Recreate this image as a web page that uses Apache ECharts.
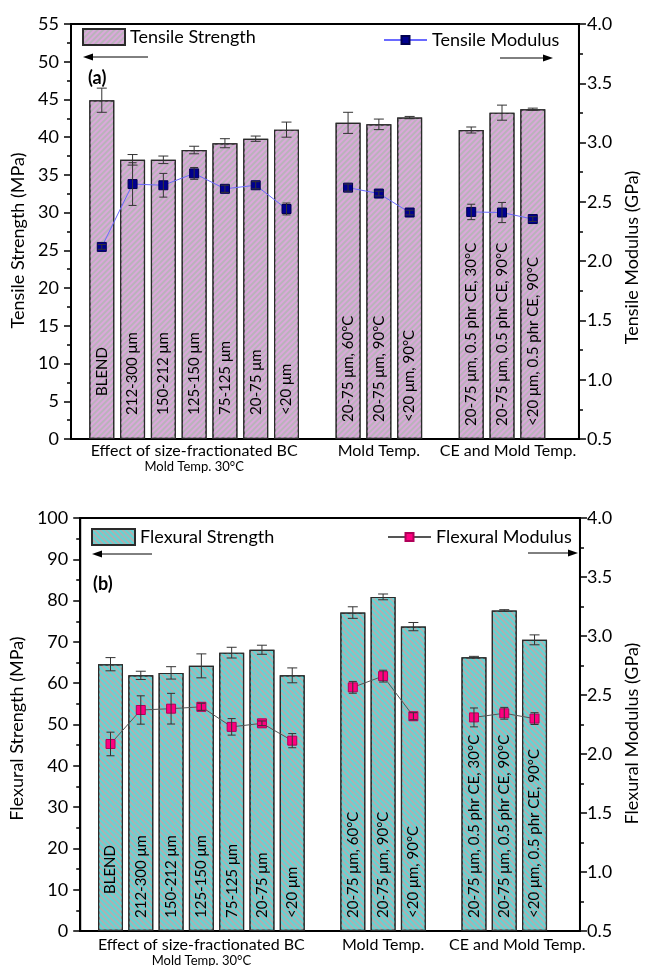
<!DOCTYPE html>
<html>
<head>
<meta charset="utf-8">
<script src="https://cdn.jsdelivr.net/npm/echarts@6/dist/echarts.min.js"></script>
<style>
  html, body { margin: 0; padding: 0; background: #fff; }
  #chart { width: 649px; height: 966px; }
</style>
</head>
<body>
<div id="chart"></div>
<script>
// sample names, grouped along the x axis
var categories = ['BLEND', '212-300 \u03bcm', '150-212 \u03bcm', '125-150 \u03bcm', '75-125 \u03bcm', '20-75 \u03bcm', '<20 \u03bcm',
  '20-75 \u03bcm, 60\u00b0C', '20-75 \u03bcm, 90\u00b0C', '<20 \u03bcm, 90\u00b0C',
  '20-75 \u03bcm, 0.5 phr CE, 30\u00b0C', '20-75 \u03bcm, 0.5 phr CE, 90\u00b0C', '<20 \u03bcm, 0.5 phr CE, 90\u00b0C'];
var groupNames = ['Effect of size-fractionated BC', 'Mold Temp.', 'CE and Mold Temp.'];
var groupSizes = [7, 3, 3];
var groupNote = 'Mold Temp. 30\u00b0C';

// (a) tensile
var tensileStrength = [44.9, 37.0, 37.0, 38.3, 39.2, 39.8, 41.0, 41.9, 41.7, 42.6, 40.95, 43.25, 43.7];
var tensileStrengthErr = [1.6, 0.7, 0.5, 0.5, 0.6, 0.35, 1.0, 1.4, 0.7, 0.15, 0.4, 1.0, 0.15];
var tensileModulus = [2.12, 2.65, 2.64, 2.74, 2.61, 2.64, 2.44, 2.62, 2.57, 2.41, 2.415, 2.41, 2.355];
var tensileModulusErr = [0.02, 0.18, 0.1, 0.05, 0.03, 0.03, 0.05, 0.03, 0.02, 0.02, 0.065, 0.085, 0.02];

// (b) flexural
var flexuralStrength = [64.6, 61.9, 62.5, 64.2, 67.4, 68.1, 61.9, 77.1, 80.9, 73.7, 66.3, 77.6, 70.5];
var flexuralStrengthErr = [1.6, 1.0, 1.5, 2.9, 1.3, 1.1, 1.8, 1.4, 0.7, 1.0, 0.2, 0.2, 1.2];
var flexuralModulus = [2.085, 2.373, 2.384, 2.40, 2.23, 2.26, 2.113, 2.565, 2.66, 2.32, 2.31, 2.345, 2.30];
var flexuralModulusErr = [0.1, 0.12, 0.13, 0.03, 0.07, 0.02, 0.06, 0.05, 0.05, 0.03, 0.08, 0.05, 0.05];

var FONT = 'Lato';

// slot on the x axis for every sample, one empty slot between groups
var slots = [], groupOf = [];
var pos = 1;
groupSizes.forEach(function (n, g) {
  for (var k = 0; k < n; k++) { slots.push(pos++); groupOf.push(g); }
  pos++;
});

// how far the rotated sample name sits above the axis
function labelLift(panel, i) {
  if (i === 0) return panel === 0 ? 43 : 37;
  if (panel === 1) return 13;
  return [24, 17, 13][groupOf[i]];
}

function barData(values, panel) {
  return slots.map(function (x, i) {
    return { value: [x, values[i]], label: { distance: labelLift(panel, i) } };
  });
}

function errData(values, errs) {
  return slots.map(function (x, i) { return [x, values[i], errs[i]]; });
}

function lineData(values) {
  var out = [];
  slots.forEach(function (x, i) {
    out.push([x, values[i]]);
    if (i < slots.length - 1 && groupOf[i + 1] !== groupOf[i]) out.push([x + 1, '-']);
  });
  return out;
}

function errorBars(cap, color) {
  return function (params, api) {
    var x = api.value(0), v = api.value(1), e = api.value(2);
    var hi = api.coord([x, v + e]), lo = api.coord([x, v - e]);
    var st = { stroke: color, lineWidth: 1 };
    return {
      type: 'group',
      children: [
        { type: 'line', shape: { x1: hi[0], y1: hi[1], x2: lo[0], y2: lo[1] }, style: st },
        { type: 'line', shape: { x1: hi[0] - cap / 2, y1: hi[1], x2: hi[0] + cap / 2, y2: hi[1] }, style: st },
        { type: 'line', shape: { x1: lo[0] - cap / 2, y1: lo[1], x2: lo[0] + cap / 2, y2: lo[1] }, style: st }
      ]
    };
  };
}

function xAxis(gridIndex) {
  return {
    type: 'value', gridIndex: gridIndex, min: 0, max: 16.5,
    axisLine: { show: true, lineStyle: { color: '#000', width: 2 } },
    axisTick: { show: false }, axisLabel: { show: false }, splitLine: { show: false }
  };
}

// shift moves the rotated title down along the axis
function yAxis(gridIndex, side, min, max, interval, name, decimals, margin, gap, shift) {
  return {
    type: 'value', gridIndex: gridIndex, position: side, min: min, max: max, interval: interval,
    name: name, nameLocation: 'middle', nameGap: gap, nameRotate: 90,
    nameTextStyle: { fontFamily: FONT, fontSize: 18, color: '#000', padding: [0, shift * 2, 0, 0] },
    axisLine: { show: true, lineStyle: { color: '#000', width: 2 } },
    axisTick: { show: true, length: 7, lineStyle: { color: '#000', width: 1.5 } },
    minorTick: { show: true, splitNumber: 2, length: 4, lineStyle: { color: '#000', width: 1.5 } },
    axisLabel: {
      fontFamily: FONT, fontSize: 18, color: '#000', margin: margin,
      formatter: function (v) { return v.toFixed(decimals); }
    },
    splitLine: { show: false }
  };
}

var barLabel = {
  show: true, position: 'insideBottom', rotate: 90, align: 'left', verticalAlign: 'middle',
  fontFamily: FONT, fontSize: 15, color: '#000',
  formatter: function (p) { return categories[p.dataIndex]; }
};

var pinkBar = {
  color: '#b9b3ba', borderColor: '#2a2a2a', borderWidth: 1.2,
  decal: { symbol: 'rect', symbolSize: 1, dashArrayX: [1, 0], dashArrayY: [2, 2], rotation: -Math.PI / 4, color: '#dba8db' }
};
var tealBar = {
  color: '#aeb0b0', borderColor: '#2a2a2a', borderWidth: 1.2,
  decal: { symbol: 'rect', symbolSize: 1, dashArrayX: [1, 0], dashArrayY: [2, 2], rotation: Math.PI / 4, color: '#5fd6d6' }
};

var legendText = { fontFamily: FONT, fontSize: 18, color: '#000' };

var chart = echarts.init(document.getElementById('chart'));

chart.setOption({
  animation: false,
  backgroundColor: '#fff',
  grid: [
    { left: 71, top: 24, width: 515, height: 415, show: true, borderColor: '#000', borderWidth: 2 },
    { left: 80, top: 518, width: 513, height: 413, show: true, borderColor: '#000', borderWidth: 2 }
  ],
  xAxis: [xAxis(0), xAxis(1)],
  yAxis: [
    yAxis(0, 'left', 0, 55, 5, 'Tensile Strength (MPa)', 0, 12, 44, 9),
    yAxis(0, 'right', 0.5, 4.0, 0.5, 'Tensile Modulus (GPa)', 1, 8, 41, 26),
    yAxis(1, 'left', 0, 100, 10, 'Flexural Strength (MPa)', 0, 12, 44, 4),
    yAxis(1, 'right', 0.5, 4.0, 0.5, 'Flexural Modulus (GPa)', 1, 7, 40, 9)
  ],
  legend: [
    { data: ['Tensile Strength'], left: 82, top: 28, padding: 0, itemWidth: 42, itemHeight: 16, icon: 'rect', textStyle: legendText },
    { data: ['Tensile Modulus'], left: 383, top: 31, padding: 0, itemWidth: 43, itemHeight: 10, textStyle: legendText },
    { data: ['Flexural Strength'], left: 91, top: 528, padding: 0, itemWidth: 43, itemHeight: 16, icon: 'rect', textStyle: legendText },
    { data: ['Flexural Modulus'], left: 387, top: 528, padding: 0, itemWidth: 43, itemHeight: 10, textStyle: legendText }
  ],
  series: [
    { name: 'Tensile Strength', type: 'bar', xAxisIndex: 0, yAxisIndex: 0, barWidth: 25,
      itemStyle: pinkBar, label: barLabel, data: barData(tensileStrength, 0) },
    { type: 'custom', xAxisIndex: 0, yAxisIndex: 0, z: 3, renderItem: errorBars(10, '#333'),
      data: errData(tensileStrength, tensileStrengthErr) },
    { name: 'Tensile Modulus', type: 'line', xAxisIndex: 0, yAxisIndex: 1, z: 4,
      symbol: 'rect', symbolSize: 9, connectNulls: false,
      lineStyle: { color: '#6a6aff', width: 1 },
      itemStyle: { color: '#00008f', borderColor: '#000050', borderWidth: 1 },
      data: lineData(tensileModulus) },
    { type: 'custom', xAxisIndex: 0, yAxisIndex: 1, z: 5, renderItem: errorBars(8, '#333'),
      data: errData(tensileModulus, tensileModulusErr) },

    { name: 'Flexural Strength', type: 'bar', xAxisIndex: 1, yAxisIndex: 2, barWidth: 25,
      itemStyle: tealBar, label: barLabel, data: barData(flexuralStrength, 1) },
    { type: 'custom', xAxisIndex: 1, yAxisIndex: 2, z: 3, renderItem: errorBars(10, '#333'),
      data: errData(flexuralStrength, flexuralStrengthErr) },
    { name: 'Flexural Modulus', type: 'line', xAxisIndex: 1, yAxisIndex: 3, z: 4,
      symbol: 'rect', symbolSize: 9, connectNulls: false,
      lineStyle: { color: '#555', width: 1 },
      itemStyle: { color: '#ff0080', borderColor: '#b00058', borderWidth: 1 },
      data: lineData(flexuralModulus) },
    { type: 'custom', xAxisIndex: 1, yAxisIndex: 3, z: 5, renderItem: errorBars(8, '#333'),
      data: errData(flexuralModulus, flexuralModulusErr) }
  ]
});

// group captions under each panel, arrows and panel tags
function arrow(x1, x2, y) {
  var dir = x2 > x1 ? 1 : -1;
  return [
    { type: 'line', shape: { x1: x1, y1: y, x2: x2 - dir * 8, y2: y }, style: { stroke: '#000', lineWidth: 1 } },
    { type: 'polygon', shape: { points: [[x2, y], [x2 - dir * 10, y - 3.5], [x2 - dir * 10, y + 3.5]] }, style: { fill: '#000' } }
  ];
}

function captions(gridIndex, dy, ceShift) {
  var out = [];
  var start = 0;
  groupSizes.forEach(function (n, g) {
    var mid = (slots[start] + slots[start + n - 1]) / 2;
    var p = chart.convertToPixel({ gridIndex: gridIndex }, [mid, 0]);
    var x = p[0] + (g === 2 ? ceShift : 0);
    out.push({ type: 'text', x: x, y: p[1] + dy, style: { text: groupNames[g], fontFamily: FONT, fontSize: 16,
      fill: '#000', align: 'center', verticalAlign: 'middle' } });
    if (g === 0) {
      out.push({ type: 'text', x: x, y: p[1] + dy + 16, style: { text: groupNote, fontFamily: FONT, fontSize: 13,
        fill: '#000', align: 'center', verticalAlign: 'middle' } });
    }
    start += n;
  });
  return out;
}

var tags = [
  { type: 'text', x: 88, y: 78, style: { text: '(a)', fontFamily: FONT, fontSize: 18, fontWeight: 'bold', fill: '#000', verticalAlign: 'middle' } },
  { type: 'text', x: 93, y: 584, style: { text: '(b)', fontFamily: FONT, fontSize: 18, fontWeight: 'bold', fill: '#000', verticalAlign: 'middle' } }
];

chart.setOption({
  graphic: [].concat(
    captions(0, 12, 6), captions(1, 14, 13), tags,
    arrow(148, 83, 57), arrow(500, 553, 58), arrow(152, 92, 554), arrow(528, 578, 553)
  )
});
</script>
</body>
</html>
